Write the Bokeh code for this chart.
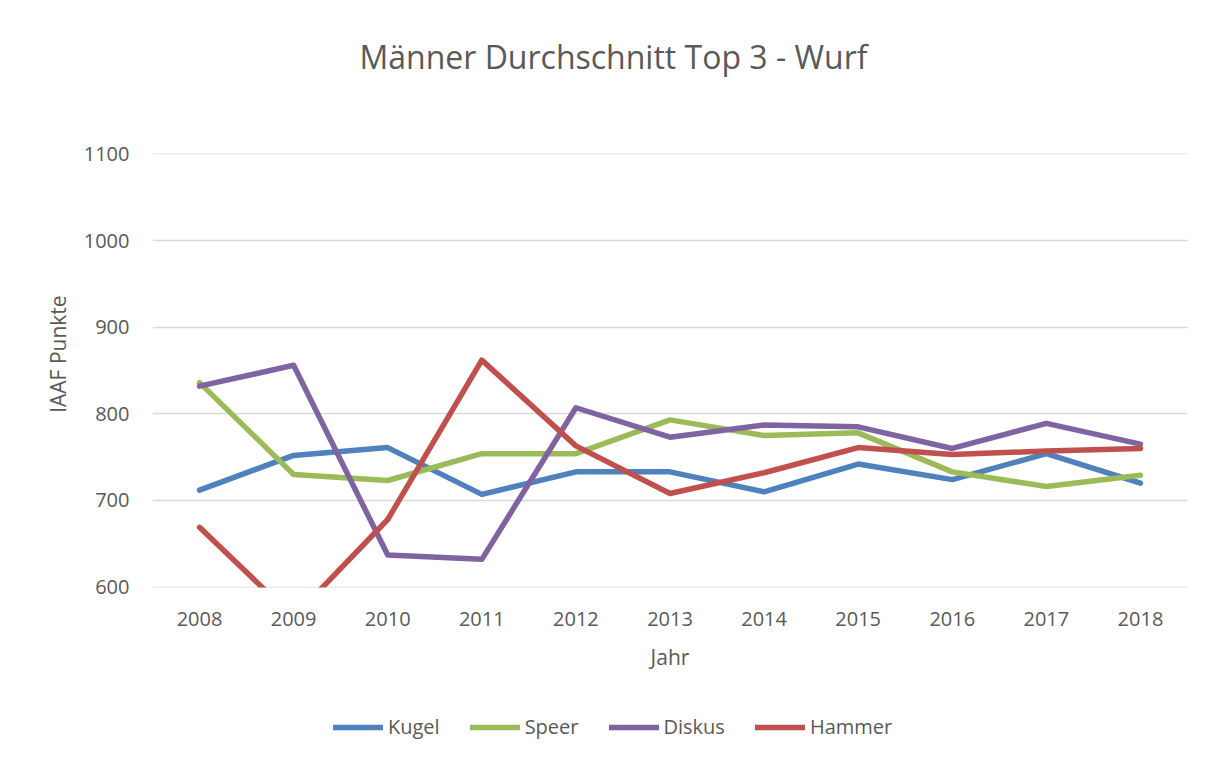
from bokeh.plotting import figure
from bokeh.models import Range1d, FixedTicker, Legend, LegendItem
from bokeh.layouts import column
from bokeh.core.properties import value
from bokeh.embed import file_html
from bokeh.resources import INLINE

title_text = "Männer Durchschnitt Top 3 - Wurf"
years = [2008, 2009, 2010, 2011, 2012, 2013, 2014, 2015, 2016, 2017, 2018]
kugel = [712, 752, 761, 707, 733, 733, 710, 742, 724, 754, 720]
speer = [836, 730, 723, 754, 754, 793, 775, 778, 733, 716, 729]
diskus = [832, 856, 637, 632, 807, 773, 787, 785, 760, 789, 765]
hammer = [669, 565, 678, 862, 763, 708, 732, 761, 753, 757, 760]
y_ticks = [600, 700, 800, 900, 1000, 1100]

series = [("Kugel", kugel, "#4F81BD"), ("Speer", speer, "#9BBB59"),
          ("Diskus", diskus, "#8064A2"), ("Hammer", hammer, "#C0504D")]

FONT = "Open Sans"
TXT = "#595959"
W = 1205
FL, FR = 152, 1187  # frame left / right (page px); column aligns all frames


def blank(h, xr, yr):
    f = figure(width=W, height=h, output_backend="svg", toolbar_location=None,
               x_range=xr, y_range=yr, min_border=0,
               min_border_left=FL, min_border_right=W - FR,
               x_axis_location=None, y_axis_location=None)
    f.outline_line_color = None
    f.grid.visible = False
    return f


# --- title strip ---
pt = blank(110, Range1d(FL, FR), Range1d(0, 110))
pt.text(x=[613], y=[54], text=[title_text], text_align="center",
        text_baseline="alphabetic", text_font=value(FONT),
        text_font_size="32px", text_color=TXT)

# --- main chart ---
p = figure(width=W, height=590, output_backend="svg", toolbar_location=None,
           x_range=Range1d(2007.5, 2018.5), y_range=Range1d(599.5, 1100.5),
           min_border_left=FL, min_border_right=W - FR, min_border_top=43,
           min_border_bottom=113)

p.outline_line_color = None
p.xgrid.grid_line_color = None
p.ygrid.grid_line_color = "#D9D9D9"
p.ygrid.grid_line_width = 1.3

p.xaxis.ticker = FixedTicker(ticks=years)
p.yaxis.ticker = FixedTicker(ticks=y_ticks)
for ax in (p.xaxis[0], p.yaxis[0]):
    ax.axis_line_color = None
    ax.major_tick_line_color = None
    ax.minor_tick_line_color = None
    ax.major_label_text_font = FONT
    ax.major_label_text_font_size = "20px"
    ax.major_label_text_color = TXT
    ax.axis_label_text_font = FONT
    ax.axis_label_text_font_size = "21px"
    ax.axis_label_text_font_style = "normal"
    ax.axis_label_text_color = TXT
p.xaxis.axis_label = "Jahr"
p.yaxis.axis_label = "\u00a0" * 6 + "IAAF Punkte"
p.yaxis.major_label_standoff = 17
p.xaxis.major_label_standoff = 18
p.yaxis.axis_label_standoff = 9
p.xaxis.axis_label_standoff = 14

for name, vals, col in series:
    p.line(years, vals, line_color=col, line_width=5.5,
           line_cap="round", line_join="round")

# --- legend strip ---
pl = blank(55, Range1d(0, 1), Range1d(0, 1))
items = []
for name, vals, col in series:
    # sample glyph only (kept outside the visible range)
    r = pl.line(x=[-5, -4], y=[-5, -5], line_color=col, line_width=5.5,
                line_cap="round")
    items.append(LegendItem(label=name, renderers=[r]))
legend = Legend(items=items, orientation="horizontal", location=(333 - FL, 15),
                glyph_width=50, label_standoff=5, spacing=30,
                label_text_font=FONT, label_text_font_size="20px",
                label_text_color=TXT, border_line_color=None,
                background_fill_alpha=0, margin=0, padding=0)
pl.add_layout(legend)

layout = column(pt, p, pl, spacing=0)
open("out.html", "w").write(file_html(layout, INLINE))
